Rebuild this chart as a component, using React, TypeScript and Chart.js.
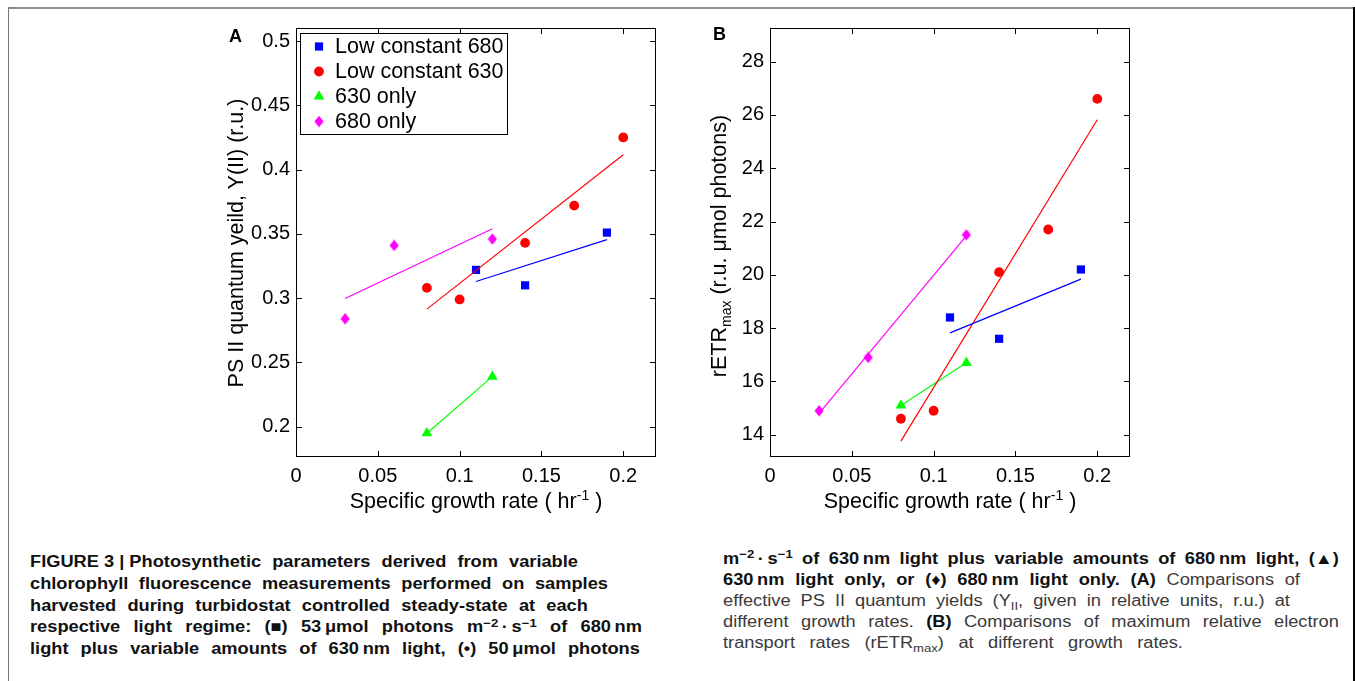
import React, { useEffect, useRef } from 'react';
import { Chart, registerables } from 'chart.js';
import { drawPoint } from 'chart.js/helpers';

Chart.register(...registerables);

// ---------------- data ----------------
const seriesNames = ['Low constant 680', 'Low constant 630', '630 only', '680 only'];

const rateLow680 = [0.11, 0.14, 0.19];
const rateLow630 = [0.08, 0.1, 0.14, 0.17, 0.2];
const rate630 = [0.08, 0.12];
const rate680 = [0.03, 0.06, 0.12];

// Panel A: PS II quantum yield
const yieldLow680 = [0.322, 0.31, 0.351];
const yieldLow630 = [0.308, 0.299, 0.343, 0.372, 0.425];
const yield630 = [0.195, 0.239];
const yield680 = [0.284, 0.341, 0.346];

// Panel B: rETRmax
const etrLow680 = [18.4, 17.6, 20.2];
const etrLow630 = [14.6, 14.9, 20.1, 21.7, 26.6];
const etr630 = [15.1, 16.7];
const etr680 = [14.9, 16.9, 21.5];

// trend line end points
const fitRateLow680 = [0.11, 0.19];
const fitRateLow630 = [0.08, 0.2];
const fitRate630 = [0.08, 0.12];
const fitRate680 = [0.03, 0.12];

const fitYieldLow680 = [0.313, 0.3455];
const fitYieldLow630 = [0.2915, 0.4115];
const fitYield630 = [0.195, 0.239];
const fitYield680 = [0.2998, 0.354];

const fitEtrLow680 = [17.82, 19.84];
const fitEtrLow630 = [13.76, 25.82];
const fitEtr630 = [15.1, 16.7];
const fitEtr680 = [14.8, 21.46];

const xTicks = [0, 0.05, 0.1, 0.15, 0.2];
const yieldTicks = [0.2, 0.25, 0.3, 0.35, 0.4, 0.45, 0.5];
const etrTicks = [14, 16, 18, 20, 22, 24, 26, 28];

const captionLeft = [
  'FIGURE\u00a03\u00a0|\u00a0Photosynthetic parameters derived from variable',
  'chlorophyll fluorescence measurements performed on samples',
  'harvested during turbidostat controlled steady-state at each',
  'respective light regime: (\u25a0) 53\u2009\u03bcmol photons m^{\u22122}\u2009\u00b7\u2009s^{\u22121} of 680\u2009nm',
  'light plus variable amounts of 630\u2009nm light, (\u2022) 50\u2009\u03bcmol photons',
];
const captionRight = [
  'm^{\u22122}\u2009\u00b7\u2009s^{\u22121} of 630\u2009nm light plus variable amounts of 680\u2009nm light, (\u25b2)',
  '630\u2009nm light only, or (\u2666) 680\u2009nm light only. (A)* Comparisons of',
  'effective PS II quantum yields (Y_{II}, given in relative units, r.u.) at',
  'different growth rates. *(B)* Comparisons of maximum relative electron',
  'transport rates (rETR_{max}) at different growth rates.',
];

// ---------------- helpers ----------------
const SANS = "'Liberation Sans', Arial, Helvetica, sans-serif";

Chart.defaults.font.family = SANS;
Chart.defaults.color = '#000';

function makeDiamond(color: string) {
  const c = document.createElement('canvas');
  c.width = 10;
  c.height = 12;
  const g = c.getContext('2d')!;
  g.fillStyle = color;
  g.beginPath();
  g.moveTo(5, 0.3);
  g.lineTo(9.6, 6);
  g.lineTo(5, 11.7);
  g.lineTo(0.4, 6);
  g.closePath();
  g.fill();
  return c;
}

const toPts = (xs: number[], ys: number[]) => xs.map((x, i) => ({ x, y: ys[i] }));

type PanelProps = {
  ys: number[][];
  fits: number[][];
  yTicks: number[];
  yMin: number;
  yMax: number;
  legend: boolean;
  left: number;
  width: number;
  axisW: number;
  padR: number;
};

function Panel(p: PanelProps) {
  const ref = useRef<HTMLCanvasElement>(null);
  useEffect(() => {
    const colors = ['#0000ff', '#ff0000', '#00ff00', '#ff00ff'];
    const styles: any[] = ['rect', 'circle', 'triangle', makeDiamond('#ff00ff')];
    const radii = [5.8, 4.9, 6.2, 5];
    const xsets = [rateLow680, rateLow630, rate630, rate680];
    const fitX = [fitRateLow680, fitRateLow630, fitRate630, fitRate680];

    const pointSets = xsets.map((xs, i) => ({
      label: seriesNames[i],
      data: toPts(xs, p.ys[i]),
      showLine: false,
      pointStyle: styles[i],
      pointRadius: radii[i],
      pointHoverRadius: radii[i],
      backgroundColor: colors[i],
      borderColor: colors[i],
      borderWidth: 0,
      order: 1,
    }));
    const fitSets = fitX.map((xs, i) => ({
      label: seriesNames[i] + ' fit',
      isFit: true,
      data: toPts(xs, p.fits[i]),
      showLine: true,
      borderColor: colors[i],
      backgroundColor: colors[i],
      borderWidth: 1.2,
      pointRadius: 0,
      pointHoverRadius: 0,
      order: 0,
    }));

    const framePlugin = {
      id: 'frameAndLegend',
      afterDraw(chart: any) {
        const { ctx, chartArea } = chart;
        const { left, top, right, bottom } = chartArea;
        const sx = chart.scales.x;
        const sy = chart.scales.y;
        ctx.save();
        ctx.strokeStyle = '#000';
        ctx.lineWidth = 1;
        ctx.strokeRect(left + 0.5, top + 0.5, right - left - 1, bottom - top - 1);
        ctx.beginPath();
        sx.ticks.forEach((t: any) => {
          const px = Math.round(sx.getPixelForValue(t.value)) + 0.5;
          ctx.moveTo(px, bottom);
          ctx.lineTo(px, bottom - 6);
          ctx.moveTo(px, top);
          ctx.lineTo(px, top + 6);
        });
        sy.ticks.forEach((t: any) => {
          const py = Math.round(sy.getPixelForValue(t.value)) + 0.5;
          ctx.moveTo(left, py);
          ctx.lineTo(left + 6, py);
          ctx.moveTo(right, py);
          ctx.lineTo(right - 6, py);
        });
        ctx.stroke();

        if (p.legend) {
          const bx = left + 4;
          const by = top + 5;
          const bw = 207;
          const bh = 101;
          ctx.fillStyle = '#fff';
          ctx.fillRect(bx, by, bw, bh);
          ctx.strokeRect(bx + 0.5, by + 0.5, bw, bh);
          const items = chart.data.datasets.filter((d: any) => !d.isFit);
          items.forEach((d: any, i: number) => {
            const cy = by + 13.5 + i * 25;
            ctx.fillStyle = d.backgroundColor;
            drawPoint(ctx, { pointStyle: d.pointStyle, radius: d.pointRadius, rotation: 0, borderWidth: 0 } as any, bx + 19, cy);
            ctx.fillStyle = '#000';
            ctx.font = '21.5px ' + SANS;
            ctx.textBaseline = 'middle';
            ctx.textAlign = 'left';
            ctx.fillText(d.label, bx + 35, cy + 1);
          });
        }
        ctx.restore();
      },
    };

    const chart = new Chart(ref.current!, {
      type: 'scatter',
      data: { datasets: [...pointSets, ...fitSets] as any },
      options: {
        animation: false,
        responsive: false,
        maintainAspectRatio: false,
        layout: { padding: { top: 17, right: p.padR, left: 0, bottom: 0 } },
        plugins: { legend: { display: false }, tooltip: { enabled: false } },
        scales: {
          x: {
            type: 'linear',
            min: 0,
            max: 0.22,
            afterBuildTicks: (s: any) => {
              s.ticks = xTicks.map((v) => ({ value: v }));
            },
            afterFit: (s: any) => {
              s.height = 73;
            },
            grid: { display: false, drawTicks: false },
            border: { display: false },
            ticks: { font: { size: 20 }, color: '#000', padding: 7, callback: (v: any) => String(v) },
          },
          y: {
            type: 'linear',
            min: p.yMin,
            max: p.yMax,
            afterBuildTicks: (s: any) => {
              s.ticks = p.yTicks.map((v) => ({ value: v }));
            },
            afterFit: (s: any) => {
              s.width = p.axisW;
            },
            grid: { display: false, drawTicks: false },
            border: { display: false },
            ticks: { font: { size: 20 }, color: '#000', padding: 6, callback: (v: any) => String(v) },
          },
        },
      } as any,
      plugins: [framePlugin],
    });
    return () => chart.destroy();
  }, []);
  return (
    <canvas
      ref={ref}
      width={p.width}
      height={520}
      style={{ position: 'absolute', left: p.left, top: 10, width: p.width, height: 520 }}
    />
  );
}

const CAP_SCALE = 1.14;

function CaptionLine({ text, bold, left, top, width }: { text: string; bold: boolean; left: number; top: number; width: number }) {
  let b = bold;
  const words = text.split(' ').map((w, wi) => {
    const parts: any[] = [];
    let buf = '';
    const flush = () => {
      if (buf) {
        parts.push(
          <span key={parts.length} style={{ fontWeight: b ? 700 : 400, color: b ? '#111' : '#3a3a3a' }}>
            {buf}
          </span>
        );
        buf = '';
      }
    };
    let i = 0;
    while (i < w.length) {
      const c = w[i];
      if (c === '*') {
        flush();
        b = !b;
        i++;
        continue;
      }
      if ((c === '^' || c === '_') && w[i + 1] === '{') {
        flush();
        const end = w.indexOf('}', i);
        const inner = w.slice(i + 2, end);
        parts.push(
          <span
            key={parts.length}
            style={{
              fontWeight: b ? 700 : 400,
              color: b ? '#111' : '#3a3a3a',
              fontSize: '0.72em',
              position: 'relative',
              top: c === '^' ? '-0.5em' : '0.35em',
            }}
          >
            {inner}
          </span>
        );
        i = end + 1;
        continue;
      }
      buf += c;
      i++;
    }
    flush();
    return (
      <span key={wi} style={{ whiteSpace: 'pre' }}>
        {parts}
      </span>
    );
  });
  return (
    <div
      style={{
        position: 'absolute',
        left,
        top,
        width: width / CAP_SCALE,
        display: 'flex',
        justifyContent: 'space-between',
        whiteSpace: 'nowrap',
        fontFamily: SANS,
        fontSize: 16,
        lineHeight: '22px',
        transform: `scaleX(${CAP_SCALE})`,
        transformOrigin: '0 0',
      }}
    >
      {words}
    </div>
  );
}

const leftWidths = [548, 578, 558, 612, 610];
const rightWidths = [616, 577, 567, 616, 460];
const rightBold = [true, true, false, false, false];

export default function App() {
  const titleStyle: React.CSSProperties = {
    position: 'absolute',
    fontFamily: SANS,
    fontSize: 21.5,
    lineHeight: '24px',
    whiteSpace: 'nowrap',
    color: '#000',
  };
  const supStyle: React.CSSProperties = { fontSize: 14, position: 'relative', top: -8 };
  const subStyle: React.CSSProperties = { fontSize: 14, position: 'relative', top: 5 };
  return (
    <div style={{ position: 'fixed', left: 0, top: 0, width: 1355, height: 681, background: '#fff', overflow: 'hidden' }}>
      <div style={{ position: 'absolute', left: 8, top: 7, width: 1347, height: 2, background: '#8c8c8c' }} />
      <div style={{ position: 'absolute', left: 8, top: 7, width: 1, height: 674, background: '#777' }} />
      <div style={{ position: 'absolute', left: 1353, top: 7, width: 2, height: 674, background: '#000' }} />

      <Panel
        ys={[yieldLow680, yieldLow630, yield630, yield680]}
        fits={[fitYieldLow680, fitYieldLow630, fitYield630, fitYield680]}
        yTicks={yieldTicks}
        yMin={0.1765}
        yMax={0.5101}
        legend={true}
        left={180}
        width={500}
        axisW={116}
        padR={24}
      />
      <Panel
        ys={[etrLow680, etrLow630, etr630, etr680]}
        fits={[fitEtrLow680, fitEtrLow630, fitEtr630, fitEtr680]}
        yTicks={etrTicks}
        yMin={13.165}
        yMax={29.26}
        legend={false}
        left={660}
        width={490}
        axisW={110}
        padR={20}
      />

      <div style={{ position: 'absolute', left: 229, top: 26.5, fontFamily: SANS, fontWeight: 700, fontSize: 18, lineHeight: '18px' }}>A</div>
      <div style={{ position: 'absolute', left: 713, top: 25, fontFamily: SANS, fontWeight: 700, fontSize: 18, lineHeight: '18px' }}>B</div>

      <div style={{ ...titleStyle, left: 296, width: 360, top: 488.5, textAlign: 'center' }}>
        Specific growth rate ( hr<span style={supStyle}>-1</span> )
      </div>
      <div style={{ ...titleStyle, left: 770, width: 360, top: 488.5, textAlign: 'center' }}>
        Specific growth rate ( hr<span style={supStyle}>-1</span> )
      </div>
      <div style={{ ...titleStyle, left: 235.5, top: 242.5, transform: 'translate(-50%, -50%) rotate(-90deg)' }}>
        PS II quantum yeild, Y(II) (r.u.)
      </div>
      <div style={{ ...titleStyle, left: 719.5, top: 246, transform: 'translate(-50%, -50%) rotate(-90deg)' }}>
        rETR<span style={subStyle}>max</span> (r.u. {'\u03bc'}mol photons)
      </div>

      {captionLeft.map((t, i) => (
        <CaptionLine key={'l' + i} text={t} bold={true} left={30} top={551 + i * 21.75} width={leftWidths[i]} />
      ))}
      {captionRight.map((t, i) => (
        <CaptionLine key={'r' + i} text={t} bold={rightBold[i]} left={723} top={547.5 + i * 21.1} width={rightWidths[i]} />
      ))}
    </div>
  );
}
